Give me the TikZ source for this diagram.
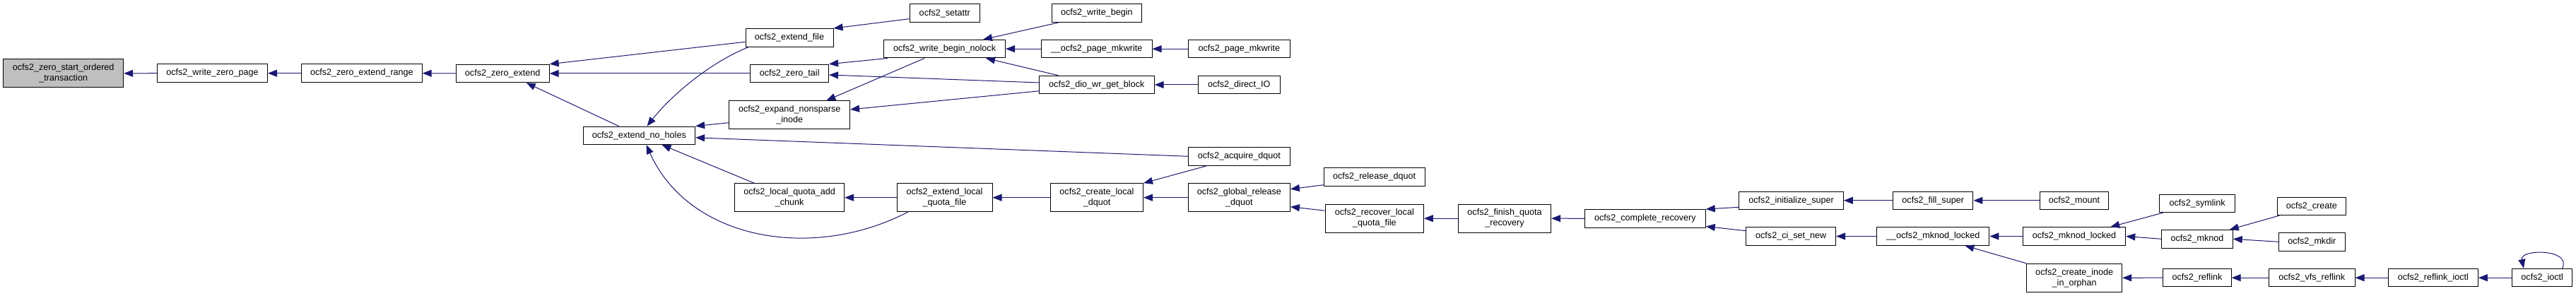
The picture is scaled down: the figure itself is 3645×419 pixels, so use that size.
\documentclass[tikz,border=0pt]{standalone}
\usepackage{fontspec}
\setmainfont{Liberation Sans}
\usetikzlibrary{arrows.meta,calc}
\definecolor{edgeblue}{HTML}{191970}
\definecolor{focusgray}{HTML}{BFBFBF}
\tikzset{
  fn/.style={draw=black, line width=1pt, inner sep=0pt, minimum height=25.5pt,
    align=center, font=\fontsize{12.6}{15}\selectfont, fill=white},
  fn2/.style={fn, minimum height=40pt},
  call/.style={draw=edgeblue, line width=1pt, -{Triangle[length=13pt,width=10pt]}},
}
\begin{document}
\begin{tikzpicture}[x=1pt,y=-1pt]
\useasboundingbox (0,0) rectangle (3645,419);
% nodes
\node[fn2, fill=focusgray, minimum width=170pt] (zs) at (89.7,103.9) {ocfs2\_zero\_start\_ordered\\\_transaction};
\node[fn, minimum width=156pt] (wzp) at (300.5,103.7) {ocfs2\_write\_zero\_page};
\node[fn, minimum width=170.6pt] (zer) at (511.9,103.7) {ocfs2\_zero\_extend\_range};
\node[fn, minimum width=132pt] (ze) at (711.2,104) {ocfs2\_zero\_extend};
\node[fn, minimum width=124pt] (ef) at (1117,53.3) {ocfs2\_extend\_file};
\node[fn, minimum width=110.7pt] (zt) at (1117.2,104) {ocfs2\_zero\_tail};
\node[fn2, minimum width=170.7pt] (eni) at (1117.2,162.7) {ocfs2\_expand\_nonsparse\\\_inode};
\node[fn, minimum width=158.6pt] (enh) at (904.3,191.8) {ocfs2\_extend\_no\_holes};
\node[fn2, minimum width=155pt] (lqac) at (1117.1,279.7) {ocfs2\_local\_quota\_add\\\_chunk};
\node[fn, minimum width=99.3pt] (setattr) at (1336.8,18.7) {ocfs2\_setattr};
\node[fn, minimum width=171.8pt] (wbn) at (1336.6,69.2) {ocfs2\_write\_begin\_nolock};
\node[fn2, minimum width=135pt] (elqf) at (1336.5,279.7) {ocfs2\_extend\_local\\\_quota\_file};
\node[fn, minimum width=127.2pt] (wb) at (1551.8,18.7) {ocfs2\_write\_begin};
\node[fn, minimum width=156.8pt] (pmwi) at (1551.6,69.2) {\_\_ocfs2\_page\_mkwrite};
\node[fn, minimum width=162.8pt] (dio) at (1551.8,120) {ocfs2\_dio\_wr\_get\_block};
\node[fn2, minimum width=131.1pt] (cld) at (1552,279.7) {ocfs2\_create\_local\\\_dquot};
\node[fn, minimum width=143.2pt] (pmw) at (1753.4,69.2) {ocfs2\_page\_mkwrite};
\node[fn, minimum width=115.6pt] (dirio) at (1753.2,120) {ocfs2\_direct\_IO};
\node[fn, minimum width=143.2pt] (aq) at (1753.4,221.3) {ocfs2\_acquire\_dquot};
\node[fn2, minimum width=144pt] (grd) at (1753.4,279.7) {ocfs2\_global\_release\\\_dquot};
\node[fn, minimum width=142.8pt] (rd) at (1944.6,250.5) {ocfs2\_release\_dquot};
\node[fn2, minimum width=139.3pt] (rlqf) at (1944.8,309.2) {ocfs2\_recover\_local\\\_quota\_file};
\node[fn2, minimum width=131.3pt] (fqr) at (2129,309.2) {ocfs2\_finish\_quota\\\_recovery};
\node[fn, minimum width=170.7pt] (cr) at (2327.9,309.3) {ocfs2\_complete\_recovery};
\node[fn, minimum width=147.5pt] (is) at (2534.6,283.8) {ocfs2\_initialize\_super};
\node[fn, minimum width=113.5pt] (fs) at (2735.2,283.8) {ocfs2\_fill\_super};
\node[fn, minimum width=97.2pt] (mount) at (2935,283.8) {ocfs2\_mount};
\node[fn, minimum width=126.9pt] (csn) at (2534.2,334.5) {ocfs2\_ci\_set\_new};
\node[fn, minimum width=159pt] (mkli) at (2735.3,334.5) {\_\_ocfs2\_mknod\_locked};
\node[fn, minimum width=145.5pt] (mkl) at (2935,334.5) {ocfs2\_mknod\_locked};
\node[fn2, minimum width=134.8pt] (ciio) at (2935.2,393.3) {ocfs2\_create\_inode\\\_in\_orphan};
\node[fn, minimum width=107.4pt] (symlink) at (3109.2,287.8) {ocfs2\_symlink};
\node[fn, minimum width=97.5pt] (create) at (3270.8,291.8) {ocfs2\_create};
\node[fn, minimum width=100.4pt] (mknod) at (3109,338.3) {ocfs2\_mknod};
\node[fn, minimum width=93.4pt] (mkdir) at (3271.3,342.3) {ocfs2\_mkdir};
\node[fn, minimum width=96.2pt] (reflink) at (3109,393.2) {ocfs2\_reflink};
\node[fn, minimum width=121.4pt] (vfs) at (3271.3,393.2) {ocfs2\_vfs\_reflink};
\node[fn, minimum width=127.1pt] (rioctl) at (3442.8,393.2) {ocfs2\_reflink\_ioctl};
\node[fn, minimum width=85.5pt] (ioctl) at (3597.2,393.2) {ocfs2\_ioctl};
% edges (arrow at the callee)
\draw[call] (wzp.west) -- (zs.east);
\draw[call] (zer.west) -- (wzp.east);
\draw[call] (ze.west) -- (zer.east);
\draw[call] ($(ef.west)+(0,6)$) -- (ze.north east);
\draw[call] (zt.west) -- (ze.east);
\draw[call] ($(enh.north west)+(51,0)$) -- ($(ze.south west)+(100,0)$);
\draw[call] ($(ef.south west)+(5,0)$) .. controls (1005,88) and (950,135) .. ($(enh.north west)+(91,0)$);
\draw[call] ($(eni.west)+(0,11)$) -- (enh.north east);
\draw[call] (aq.west) -- ($(enh.east)+(0,3)$);
\draw[call] ($(lqac.north west)+(28,0)$) -- ($(enh.south west)+(112,0)$);
\draw[call] ($(elqf.south west)+(16,0)$) .. controls (1150,370) and (975,340) .. ($(enh.south west)+(90,0)$);
\draw[call] ($(setattr.west)+(0,8)$) -- (ef.north east);
\draw[call] ($(wbn.south west)+(6,0)$) -- (zt.north east);
\draw[call] ($(dio.west)+(0,-3)$) -- ($(zt.east)+(0,2)$);
\draw[call] ($(wbn.south west)+(58,0)$) -- ($(eni.north west)+(138,0)$);
\draw[call] ($(dio.south west)+(0,-4.4)$) -- ($(eni.east)+(0,-7.7)$);
\draw[call] (elqf.west) -- (lqac.east);
\draw[call] ($(wb.south west)+(10,0)$) -- ($(wbn.north east)+(-32,0)$);
\draw[call] (pmwi.west) -- (wbn.east);
\draw[call] ($(dio.north west)+(27.5,0)$) -- ($(wbn.south east)+(-28,0)$);
\draw[call] (pmw.west) -- (pmwi.east);
\draw[call] (dirio.west) -- (dio.east);
\draw[call] (cld.west) -- (elqf.east);
\draw[call] ($(aq.south west)+(27,0)$) -- (cld.north east);
\draw[call] (grd.west) -- (cld.east);
\draw[call] ($(rd.south west)+(0,-2)$) -- ($(grd.east)+(0,-12)$);
\draw[call] ($(rlqf.west)+(0,-11)$) -- ($(grd.east)+(0,13)$);
\draw[call] (fqr.west) -- (rlqf.east);
\draw[call] (cr.west) -- (fqr.east);
\draw[call] ($(is.west)+(0,9.5)$) -- (cr.north east);
\draw[call] ($(csn.west)+(0,-7.8)$) -- ($(cr.south east)+(0,-2)$);
\draw[call] (fs.west) -- (is.east);
\draw[call] (mount.west) -- (fs.east);
\draw[call] (mkli.west) -- (csn.east);
\draw[call] (mkl.west) -- (mkli.east);
\draw[call] (ciio.north west) -- ($(mkli.south east)+(-35,0)$);
\draw[call] ($(symlink.south west)+(6,0)$) -- ($(mkl.north east)+(-22,0)$);
\draw[call] (mknod.west) -- (mkl.east);
\draw[call] ($(create.south west)+(4,0)$) -- ($(mknod.north east)+(-5,0)$);
\draw[call] (mkdir.west) -- (mknod.east);
\draw[call] (reflink.west) -- (ciio.east);
\draw[call] (vfs.west) -- (reflink.east);
\draw[call] (rioctl.west) -- (vfs.east);
\draw[call] (ioctl.west) -- (rioctl.east);
\draw[call] ($(ioctl.north east)+(-15,0)$) .. controls (3640,352) and (3565,352) .. ($(ioctl.north west)+(17,0)$);
\end{tikzpicture}
\end{document}
